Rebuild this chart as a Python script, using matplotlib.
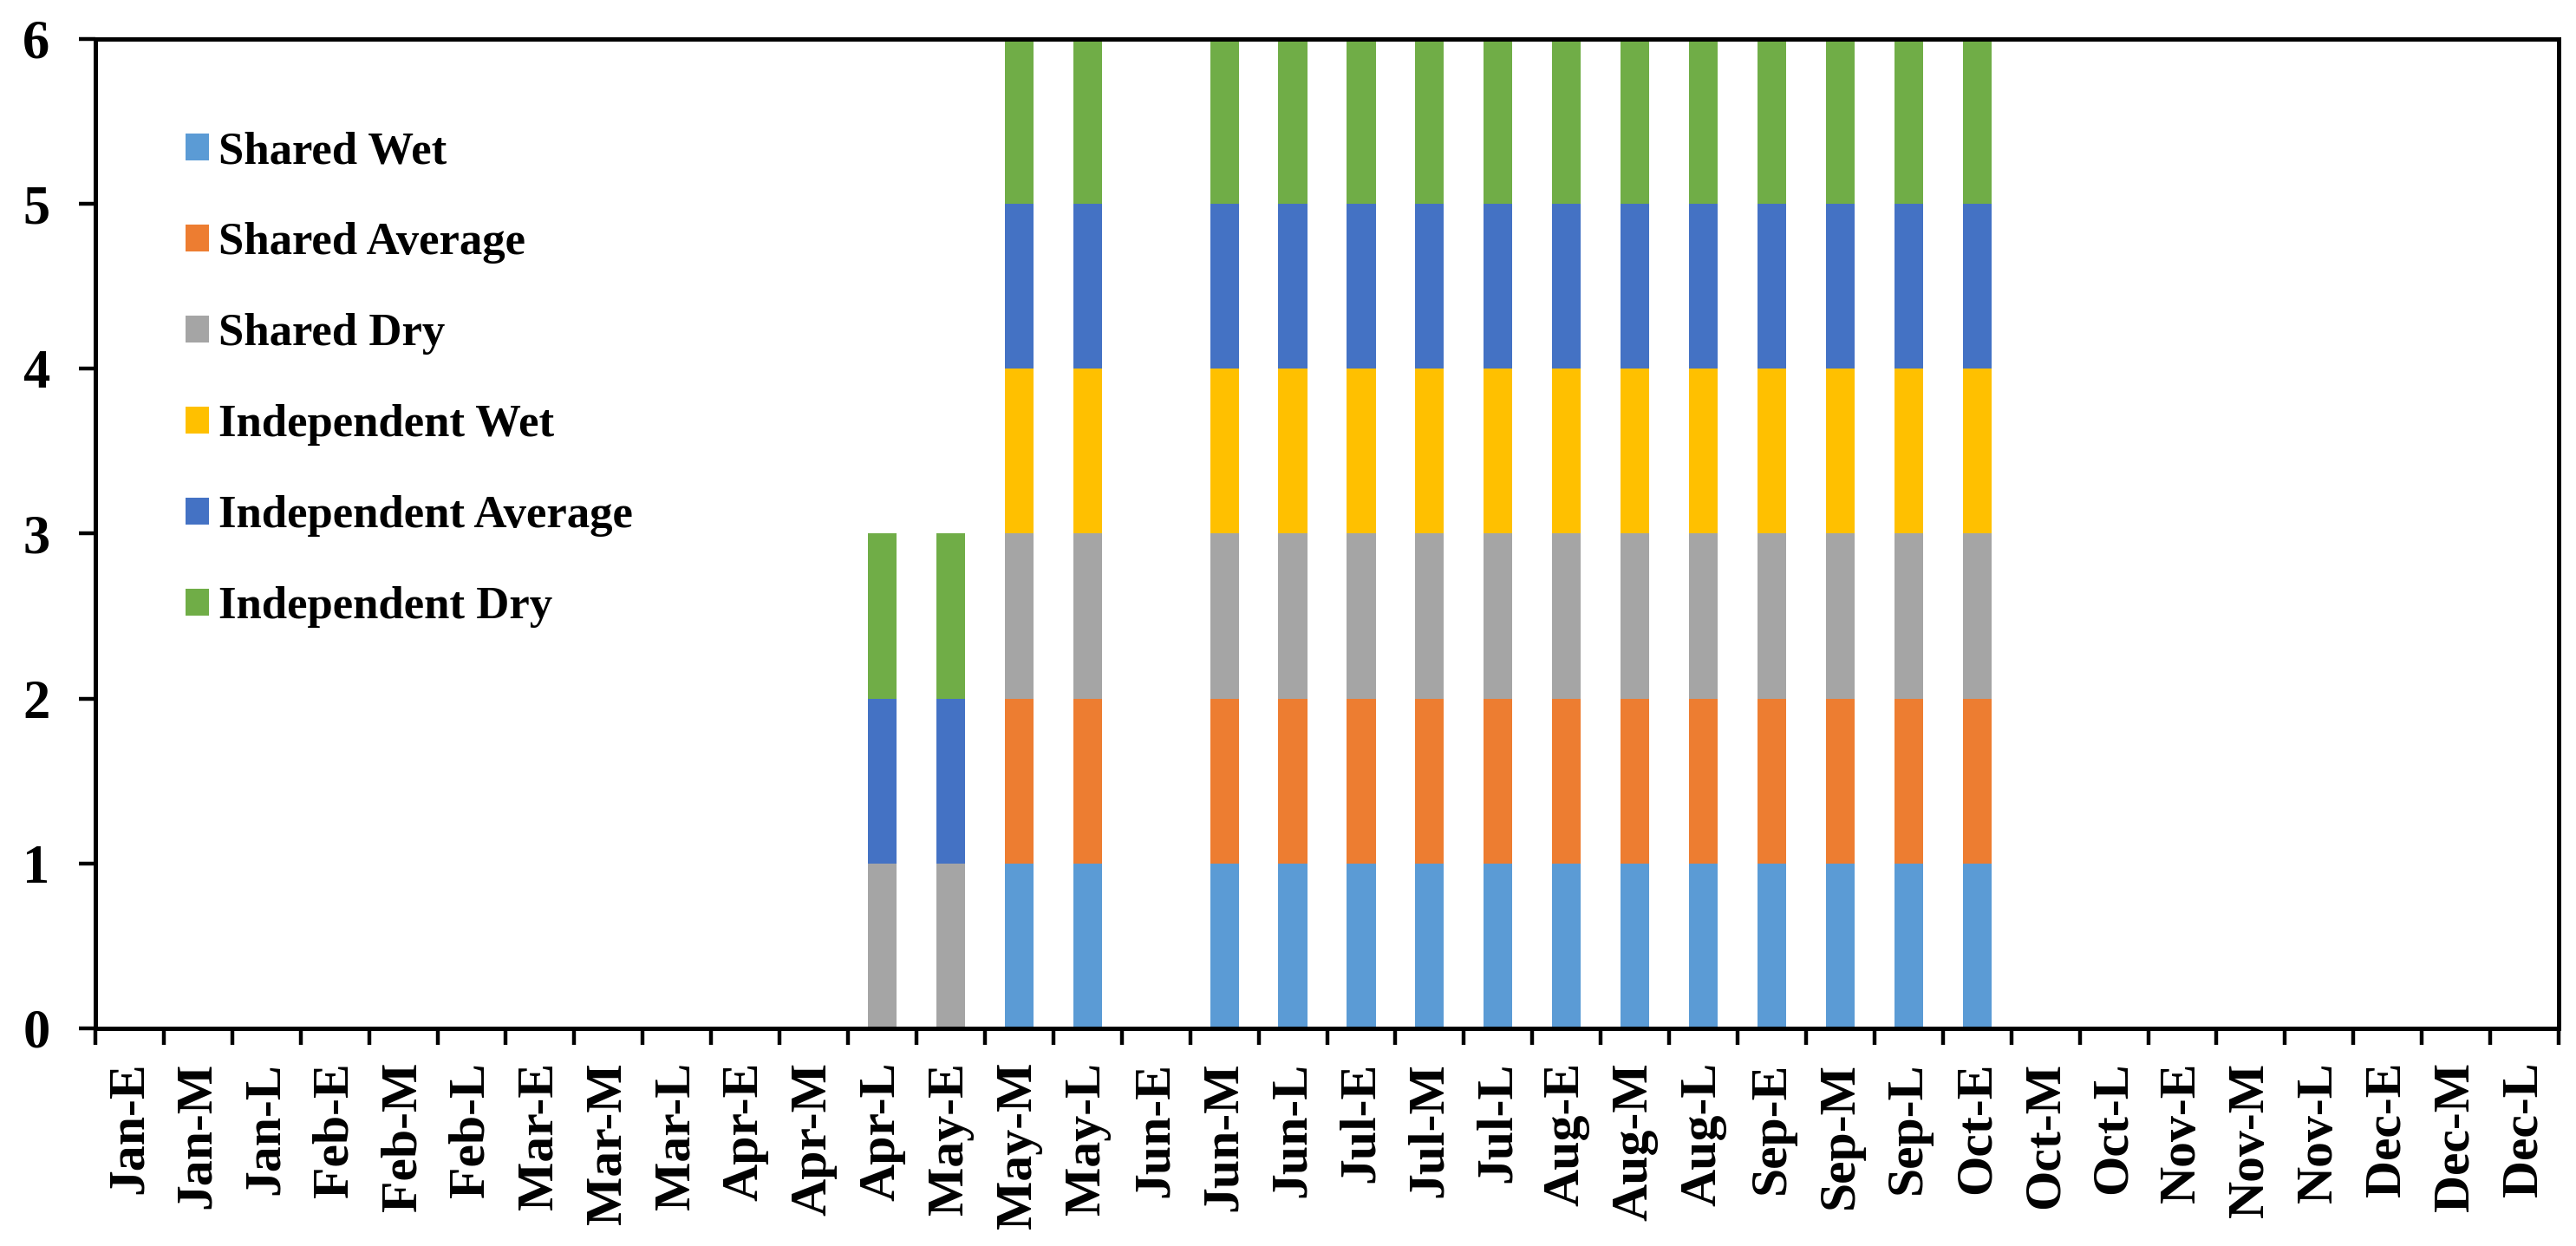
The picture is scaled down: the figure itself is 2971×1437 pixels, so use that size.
import numpy as np
import matplotlib
matplotlib.use('Agg')
import matplotlib.pyplot as plt

# kategorier (maaned - tidlig/midt/sen)
maaneder = ['Jan', 'Feb', 'Mar', 'Apr', 'May', 'Jun', 'Jul', 'Aug', 'Sep', 'Oct', 'Nov', 'Dec']
deler = ['E', 'M', 'L']
kategorier = [m + '-' + d for m in maaneder for d in deler]

# verdier per serie (36 kategorier)
shared_wet = [0]*13 + [1, 1, 0] + [1]*12 + [0]*8
shared_average = [0]*13 + [1, 1, 0] + [1]*12 + [0]*8
shared_dry = [0]*11 + [1, 1, 1, 1, 0] + [1]*12 + [0]*8
independent_wet = [0]*13 + [1, 1, 0] + [1]*12 + [0]*8
independent_average = [0]*11 + [1, 1, 1, 1, 0] + [1]*12 + [0]*8
independent_dry = [0]*11 + [1, 1, 1, 1, 0] + [1]*12 + [0]*8

serier = [
    ('Shared Wet', shared_wet, '#5B9BD5'),
    ('Shared Average', shared_average, '#ED7D31'),
    ('Shared Dry', shared_dry, '#A5A5A5'),
    ('Independent Wet', independent_wet, '#FFC000'),
    ('Independent Average', independent_average, '#4472C4'),
    ('Independent Dry', independent_dry, '#70AD47'),
]

plt.rcParams['font.family'] = ['Liberation Serif', 'DejaVu Serif']
plt.rcParams['font.weight'] = 'bold'

fig = plt.figure(figsize=(29.71, 14.37), dpi=100)
ax = fig.add_axes([0.0370, 0.1747, 0.9563, 0.7940])

x = np.arange(len(kategorier))
bunn = np.zeros(len(kategorier))
for navn, verdier, farge in serier:
    v = np.array(verdier, dtype=float)
    ax.bar(x, v, bottom=bunn, width=0.42, color=farge, label=navn, linewidth=0)
    bunn = bunn + v

ax.set_xlim(-0.5, len(kategorier) - 0.5)
ax.set_ylim(0, 6)
ax.set_yticks(range(0, 7))

# etiketter midt i kategorien, tick-streker paa grensene
ax.set_xticks(x)
ax.set_xticklabels(kategorier, rotation=90, fontsize=43, fontweight='bold', va='top', ha='center')
ax.tick_params(axis='x', which='major', length=0, pad=28)
ax.set_xticks(np.arange(-0.5, len(kategorier)), minor=True)
ax.tick_params(axis='x', which='minor', length=13.7, width=3.2, direction='out')
ax.tick_params(axis='y', which='major', length=13.7, width=3.2, direction='out', labelsize=45, pad=24)
for lab in ax.get_yticklabels():
    lab.set_fontweight('bold')

for s in ax.spines.values():
    s.set_linewidth(3.6)

ax.legend(loc='upper left', bbox_to_anchor=(0.0275, 0.93), frameon=False,
          handlelength=0.5, handleheight=0.5, handletextpad=0.22, labelspacing=1.08, borderpad=0,
          prop={'weight': 'bold', 'size': 38})

fig.savefig('out.png', dpi=100)
